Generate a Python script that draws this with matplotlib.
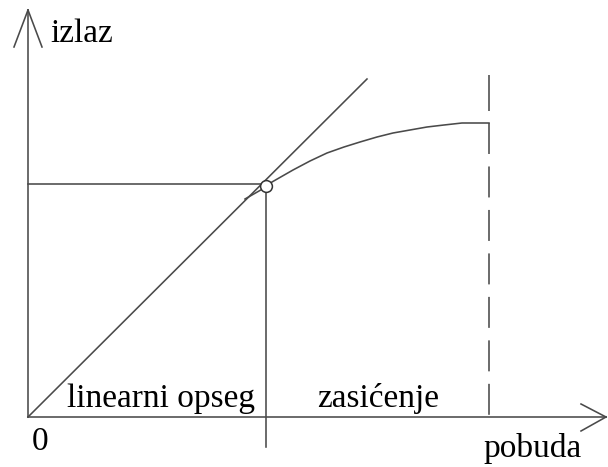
import matplotlib
matplotlib.use("Agg")
import matplotlib.pyplot as plt

plt.rcParams['font.family'] = ['Liberation Serif', 'DejaVu Serif']
plt.rcParams['lines.scale_dashes'] = False

# ---- data (diagram units: origin at the axes crossing) ----
x_axis_end = 578
y_axis_end = 407
x_arrow_wings = [(553, 13), (553, -14)]
y_arrow_wings = [(-14, 370), (14, 370)]

diag_x = [0, 339]
diag_y = [0, 338]

knee_x = 238
knee_y = 231

curve_x = [217, 238, 244, 265, 282, 299, 316, 332, 349, 365, 382, 399, 416, 434, 461]
curve_y = [218, 230, 235, 247, 256, 264, 270, 275, 280, 284, 287, 290, 292, 294, 294]

sat_x = 461
sat_top = 342
sat_solid_bottom = 306

labels = {
    "izlaz": (22, 375),
    "linearni opseg": (39, 10.5),
    "zasićenje": (289, 10.5),
    "0": (4, -33),
    "pobuda": (455, -40.5),
}

# ---- drawing ----
lc = '#4a4a4a'
lw = 1.15
fig = plt.figure(figsize=(6.08, 4.67), dpi=100)
ax = fig.add_axes([0, 0, 1, 1])
ax.set_xlim(-28, 580)
ax.set_ylim(-50, 417)
ax.axis('off')

# axes with arrows
ax.plot([0, x_axis_end], [0, 0], color=lc, lw=lw)
ax.plot([0, 0], [0, y_axis_end], color=lc, lw=lw)
for wx, wy in x_arrow_wings:
    ax.plot([wx, x_axis_end], [wy, 0], color=lc, lw=lw)
for wx, wy in y_arrow_wings:
    ax.plot([wx, 0], [wy, y_axis_end], color=lc, lw=lw)

# linear characteristic
ax.plot(diag_x, diag_y, color=lc, lw=lw)
# real characteristic
ax.plot(curve_x, curve_y, color=lc, lw=lw)

# guide lines through the knee
ax.plot([0, knee_x], [knee_y + 2.5, knee_y + 2.5], color=lc, lw=lw)
ax.plot([knee_x, knee_x], [knee_y, -30], color=lc, lw=lw)
ax.plot([knee_x], [knee_y], marker='o', ms=8.5, mfc='white', mec='#333333', mew=1.1, zorder=5)

# saturation limit (dashed)
ax.plot([sat_x, sat_x], [sat_top, sat_solid_bottom], color=lc, lw=lw, solid_capstyle='butt')
ax.plot([sat_x, sat_x], [curve_y[-1], 0], color=lc, lw=lw, dashes=(22.3, 9.0),
        dash_capstyle='butt')

for txt, (tx, ty) in labels.items():
    ax.text(tx, ty, txt, fontsize=24, ha='left', va='baseline', color='black')

fig.savefig('out.png', dpi=100)
